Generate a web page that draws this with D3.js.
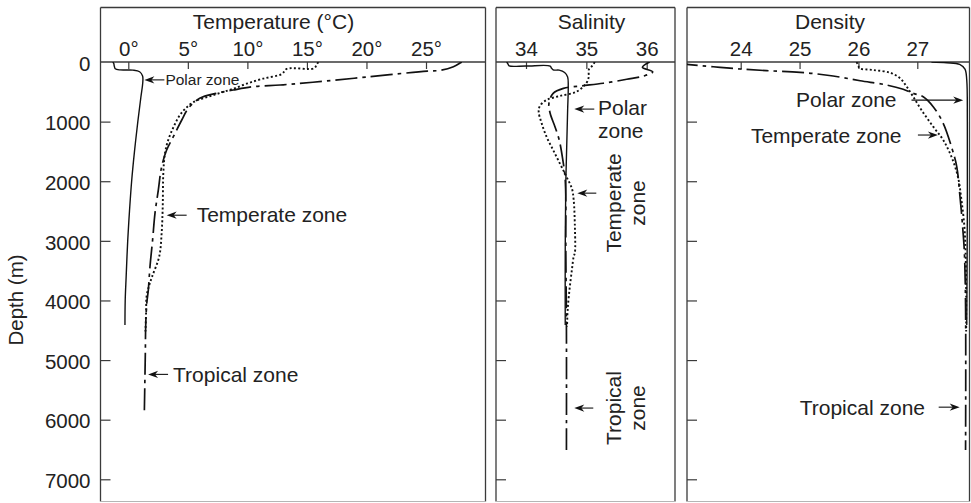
<!DOCTYPE html>
<html>
<head>
<meta charset="utf-8">
<script src="https://cdn.jsdelivr.net/npm/d3@7"></script>
<style>
  html, body { margin: 0; padding: 0; background: #fff; }
  svg { display: block; font-family: "Liberation Sans", Arial, Helvetica, sans-serif; }
</style>
</head>
<body>
<svg id="chart" width="971" height="503"></svg>
<script>
// ---- axis ticks ----
const depthTicks = [0, 1000, 2000, 3000, 4000, 5000, 6000, 7000];
const tempTicks = [0, 5, 10, 15, 20, 25];
const salinityTicks = [34, 35, 36];
const densityTicks = [24, 25, 26, 27];

// ---- profiles: [value, depth in m] ----
const tempPolar = [[-1.3, 0], [-1.22, 25], [-1.18, 67], [-1.1, 112], [-0.7, 133], [0.4, 136], [0.95, 163],
  [1.2, 235], [1.22, 330], [1.05, 600], [0.8, 1000], [0.52, 1500], [0.28, 2000], [0.1, 2500],
  [-0.05, 3000], [-0.18, 3600], [-0.26, 4000], [-0.28, 4410]];
const tempTemperate = [[15.95, 0], [15.8, 50], [15.6, 106], [13.3, 116], [12.9, 200], [11.3, 280],
  [10.0, 360], [8.8, 450], [7.7, 520], [6.6, 590], [5.5, 670], [4.8, 780], [4.3, 900], [3.8, 1090],
  [3.35, 1310], [3.08, 1530], [2.94, 1870], [2.89, 2430], [2.8, 2870], [2.6, 3260], [2.0, 3600],
  [1.72, 3770], [1.53, 3940], [1.5, 4160], [1.44, 4520]];
const tempTropical = [[28.0, 0], [27.9, 12], [27.3, 79], [26.2, 140], [25.1, 152], [20.0, 252],
  [15.5, 340], [12.75, 386], [10.5, 414], [8.8, 470], [7.4, 525], [6.0, 609], [5.04, 777],
  [4.49, 973], [3.78, 1253], [3.22, 1477], [2.8, 1757], [2.52, 2148], [2.24, 2539], [2.04, 2987],
  [1.82, 3435], [1.68, 3826], [1.55, 4049], [1.46, 4441], [1.43, 4888], [1.35, 5840]];

const salPolar = [[33.68, 0], [33.7, 30], [33.72, 64], [34.0, 67], [34.4, 68], [34.42, 100],
  [34.45, 133], [34.55, 136], [34.64, 175], [34.69, 250], [34.7, 414], [34.69, 800],
  [34.68, 1200], [34.66, 2000], [34.65, 3200], [34.65, 4410]];
const salTemperate = [[35.14, 0], [35.1, 60], [35.04, 130], [35.04, 250], [35.0, 354], [34.84, 497],
  [34.56, 570], [34.34, 638], [34.23, 738], [34.21, 834], [34.26, 1030], [34.34, 1253],
  [34.45, 1477], [34.56, 1700], [34.67, 1924], [34.76, 2120], [34.79, 2315], [34.81, 2763],
  [34.81, 3200], [34.79, 3265], [34.76, 3490], [34.72, 3826], [34.69, 4161], [34.68, 4441]];
const salTropical = [[36.05, 0], [35.93, 90], [36.1, 165], [35.95, 235], [35.67, 290], [35.28, 357],
  [34.9, 403], [34.62, 442], [34.45, 525], [34.38, 693], [34.4, 860], [34.48, 1085], [34.55, 1307],
  [34.61, 1643], [34.65, 1980], [34.66, 3200], [34.67, 4500], [34.67, 6510]];

const densPolar = [[27.24, 0], [27.5, 12], [27.72, 40], [27.81, 120], [27.84, 300], [27.85, 1000],
  [27.85, 2500], [27.84, 4410]];
const densTemperate = [[25.97, 0], [26.0, 70], [26.02, 106], [26.25, 134], [26.54, 180], [26.71, 275],
  [26.82, 414], [26.93, 582], [27.07, 805], [27.27, 1085], [27.44, 1309], [27.58, 1589],
  [27.69, 1924], [27.75, 2315], [27.8, 2763], [27.82, 3200], [27.83, 3826], [27.83, 4520]];
const densTropical = [[22.9, 20], [23.09, 40], [23.31, 62], [23.65, 89], [23.99, 117], [24.44, 145],
  [25.01, 173], [25.57, 235], [26.03, 314], [26.48, 386], [26.76, 458], [26.93, 525], [27.1, 582],
  [27.27, 749], [27.44, 1028], [27.58, 1420], [27.67, 1755], [27.72, 2203], [27.77, 2763],
  [27.8, 3200], [27.82, 4100], [27.82, 6510]];

// ---- layout ----
const INK = "#222";
const FRAME = "#3a3a3a";
const FONT = "\"Liberation Sans\", Arial, Helvetica, sans-serif";
const panelTop = 7.5, axisY = 62, panelBottom = 501.5;

const svg = d3.select("#chart");
const y = d3.scaleLinear().domain([0, 7000]).range([62, 479.3]);

const zoneStyle = {
  polar:     { width: 1.4, dash: null },
  temperate: { width: 1.9, dash: "2,2.3" },
  tropical:  { width: 1.7, dash: "22,5,3.5,5" }
};

const panels = [
  { id: "temp", x0: 100.5, x1: 485.5, x: d3.scaleLinear().domain([0, 25]).range([128.3, 426]),
    ticks: tempTicks, fmt: d => d + "°", title: "Temperature (°C)", titleX: 273.5,
    series: [["polar", tempPolar], ["temperate", tempTemperate], ["tropical", tempTropical]] },
  { id: "sal", x0: 496, x1: 675, x: d3.scaleLinear().domain([34, 36]).range([526, 646.7]),
    ticks: salinityTicks, fmt: d => d, title: "Salinity", titleX: 591.5,
    series: [["polar", salPolar], ["temperate", salTemperate], ["tropical", salTropical]] },
  { id: "dens", x0: 687, x1: 969.5, x: d3.scaleLinear().domain([24, 27]).range([740.7, 917.3]),
    ticks: densityTicks, fmt: d => d, title: "Density", titleX: 830,
    series: [["polar", densPolar], ["temperate", densTemperate], ["tropical", densTropical]] }
];

const defs = svg.append("defs");

panels.forEach((p, i) => {
  const g = svg.append("g").attr("class", "panel-" + p.id);

  // plot-area clip
  defs.append("clipPath").attr("id", "clip-" + p.id)
    .append("rect").attr("x", p.x0).attr("y", axisY).attr("width", p.x1 - p.x0).attr("height", panelBottom - axisY);

  // frame: top, sides, axis line, faint bottom
  g.append("line").attr("x1", p.x0).attr("x2", p.x1).attr("y1", panelTop).attr("y2", panelTop)
    .attr("stroke", FRAME).attr("stroke-width", 1.3);
  g.append("line").attr("x1", p.x0).attr("x2", p.x1).attr("y1", axisY).attr("y2", axisY)
    .attr("stroke", FRAME).attr("stroke-width", 1.3);
  [p.x0, p.x1].forEach(xx => g.append("line").attr("x1", xx).attr("x2", xx)
    .attr("y1", panelTop).attr("y2", panelBottom).attr("stroke", FRAME).attr("stroke-width", 1.3));
  g.append("line").attr("x1", p.x0).attr("x2", p.x1).attr("y1", panelBottom).attr("y2", panelBottom)
    .attr("stroke", "#b5b5b5").attr("stroke-width", 1);

  // title
  g.append("text").attr("x", p.titleX).attr("y", 28.5).attr("text-anchor", "middle")
    .attr("fill", INK).attr("font-size", 21).text(p.title);

  // top value axis, ticks pointing into the plot
  const xAxis = g.append("g").attr("transform", `translate(0,${axisY})`)
    .call(d3.axisTop(p.x).tickValues(p.ticks).tickFormat(p.fmt).tickSizeInner(-7).tickSizeOuter(0).tickPadding(6));
  xAxis.select(".domain").remove();
  xAxis.attr("font-family", FONT).attr("font-size", 20.5);
  xAxis.selectAll("line").attr("stroke", FRAME).attr("stroke-width", 1.2);
  xAxis.selectAll("text").attr("fill", INK);

  // depth axis on the left side of each panel
  const yAxis = g.append("g").attr("transform", `translate(${p.x0},0)`)
    .call(d3.axisLeft(y).tickValues(i === 0 ? depthTicks : depthTicks.slice(1))
      .tickFormat(i === 0 ? d3.format("d") : () => "")
      .tickSizeInner(-10).tickSizeOuter(0).tickPadding(10));
  yAxis.select(".domain").remove();
  yAxis.attr("font-family", FONT).attr("font-size", 20.5);
  yAxis.selectAll("line").attr("stroke", FRAME).attr("stroke-width", 1.2)
    .filter(d => d === 0).remove();
  yAxis.selectAll("text").attr("fill", INK).attr("dy", "0.4em");

  // profiles
  const line = d3.line().x(d => p.x(d[0])).y(d => y(d[1])).curve(d3.curveCatmullRom.alpha(0.5));
  const curves = g.append("g").attr("clip-path", `url(#clip-${p.id})`);
  p.series.forEach(([zone, data]) => {
    const s = zoneStyle[zone];
    curves.append("path").datum(data).attr("d", line)
      .attr("fill", "none").attr("stroke", "#111").attr("stroke-width", s.width)
      .attr("stroke-dasharray", s.dash).attr("stroke-linejoin", "round");
  });
});

svg.append("text").attr("transform", "translate(23,300) rotate(-90)").attr("text-anchor", "middle")
  .attr("fill", INK).attr("font-size", 20.5).text("Depth (m)");

// ---- annotations ----
const ann = svg.append("g").attr("class", "annotations").attr("fill", INK);

function arrow(x1, y1, x2, y2) {
  // shaft from (x1,y1) to tip (x2,y2) with a narrow barbed head
  const a = Math.atan2(y2 - y1, x2 - x1);
  ann.append("line").attr("x1", x1).attr("y1", y1).attr("x2", x2 - 5 * Math.cos(a)).attr("y2", y2 - 5 * Math.sin(a))
    .attr("stroke", "#111").attr("stroke-width", 1.1);
  ann.append("path").attr("d", "M0,0 L-10,-3.6 L-7,0 L-10,3.6 Z")
    .attr("transform", `translate(${x2},${y2}) rotate(${a * 180 / Math.PI})`).attr("fill", "#111");
}
function label(x, yy, txt, size, anchor) {
  ann.append("text").attr("x", x).attr("y", yy).attr("font-size", size)
    .attr("text-anchor", anchor || "start").text(txt);
}
function vlabel(x, yy, txt) {
  ann.append("text").attr("transform", `translate(${x},${yy}) rotate(-90)`)
    .attr("font-size", 21).attr("text-anchor", "middle").text(txt);
}

const tX = panels[0].x, sX = panels[1].x, dX = panels[2].x;

// temperature panel
let tip = [tX(1.35), y(300)];
arrow(tip[0] + 20, tip[1], tip[0], tip[1]);
label(tip[0] + 21, tip[1] + 5.5, "Polar zone", 15.5);

tip = [tX(3.22), y(2570)];
arrow(tip[0] + 20, tip[1], tip[0], tip[1]);
label(tip[0] + 30, tip[1] + 7, "Temperate zone", 21);

tip = [tX(1.66), y(5240)];
arrow(tip[0] + 20, tip[1], tip[0], tip[1]);
label(tip[0] + 25, tip[1] + 7.5, "Tropical zone", 21);

// salinity panel
tip = [sX(34.8), y(790)];
arrow(tip[0] + 20, tip[1], tip[0], tip[1]);
label(598, 114.5, "Polar", 21);
label(598, 137.5, "zone", 21);

tip = [sX(34.85), y(2200)];
arrow(tip[0] + 19, tip[1], tip[0], tip[1]);
vlabel(621, 203, "Temperate");
vlabel(645, 203, "zone");

tip = [sX(34.8), y(5805)];
arrow(tip[0] + 19, tip[1], tip[0], tip[1]);
vlabel(621, 408, "Tropical");
vlabel(645, 408, "zone");

// density panel
tip = [dX(27.78), y(640)];
arrow(911.5, tip[1], tip[0], tip[1]);
label(896.5, tip[1] + 6.5, "Polar zone", 21, "end");

tip = [dX(27.35), y(1225)];
arrow(tip[0] - 20, tip[1], tip[0], tip[1]);
label(901.5, tip[1] + 7.5, "Temperate zone", 21, "end");

tip = [dX(27.72), y(5790)];
arrow(tip[0] - 21, tip[1], tip[0], tip[1]);
label(925, tip[1] + 7.5, "Tropical zone", 21, "end");
</script>
</body>
</html>
